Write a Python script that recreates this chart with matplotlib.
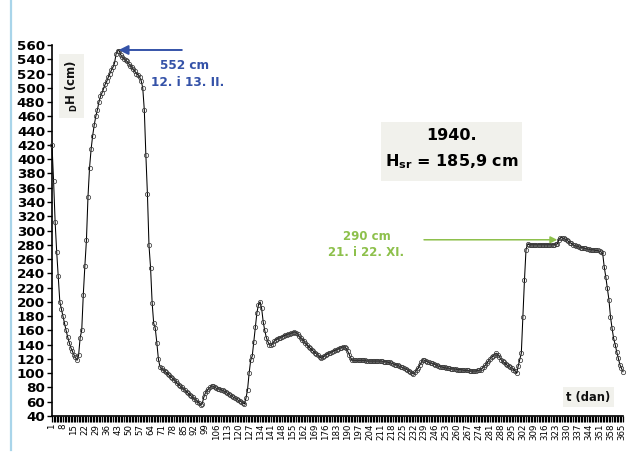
import numpy as np
import matplotlib
matplotlib.use("Agg")
import matplotlib.pyplot as plt
from matplotlib.patches import Rectangle
from matplotlib.lines import Line2D

# daily water level H (cm) for 1940 (leap year), one list per month
jan = [420, 370, 312, 270, 236, 200, 190, 180, 170, 160, 151, 143, 136, 131, 126, 122,
       118, 125, 150, 160, 210, 250, 286, 347, 388, 414, 433, 448, 460, 469, 480]
feb = [488, 493, 499, 505, 509, 515, 520, 525, 529, 535, 548, 552, 552, 546, 543, 541,
       539, 537, 534, 531, 529, 526, 523, 520, 518, 515, 510, 500, 469]
mar = [406, 351, 279, 248, 199, 170, 163, 143, 120, 109, 107, 105, 103, 101, 99, 97,
       95, 93, 91, 89, 86, 84, 82, 80, 78, 76, 74, 72, 70, 68, 66]
apr = [64, 62, 60, 58, 55, 57, 66, 72, 75, 78, 80, 82, 82, 80, 79, 78,
       78, 77, 76, 75, 74, 72, 71, 69, 68, 66, 65, 64, 62, 61]
may = [60, 58, 57, 65, 77, 100, 118, 124, 144, 165, 185, 196, 200, 191, 172, 160,
       150, 144, 140, 139, 141, 145, 147, 148, 149, 150, 151, 152, 153, 154, 155]
jun = [155, 156, 157, 158, 157, 155, 152, 149, 147, 145, 142, 140, 137, 135, 133, 131,
       129, 127, 125, 123, 121, 122, 124, 126, 127, 128, 129, 130, 131, 132]
jul = [133, 134, 135, 136, 137, 137, 135, 131, 126, 121, 118, 118, 118, 118, 118, 118,
       118, 118, 118, 117, 117, 117, 117, 117, 117, 117, 117, 117, 117, 117, 116]
aug = [116, 116, 115, 115, 114, 113, 112, 112, 111, 110, 109, 108, 107, 106, 105, 103,
       102, 100, 99, 101, 104, 107, 111, 115, 119, 118, 117, 116, 115, 114, 114]
sep = [113, 112, 111, 110, 109, 109, 108, 108, 107, 107, 107, 106, 106, 106, 106, 105,
       105, 105, 105, 104, 104, 104, 104, 103, 103, 103, 103, 103, 104, 104]
oct_ = [105, 107, 109, 111, 114, 117, 120, 122, 124, 126, 128, 126, 123, 119, 117, 115,
        113, 111, 110, 108, 107, 105, 103, 100, 110, 119, 128, 179, 230, 273, 281]
nov = [280, 280, 280, 280, 280, 280, 280, 280, 280, 280, 280, 280, 280, 280, 280, 280,
       280, 281, 281, 287, 290, 290, 289, 288, 287, 285, 283, 282, 280, 279]
dec = [278, 278, 277, 276, 276, 275, 275, 274, 274, 273, 273, 273, 272, 272, 272, 271,
       270, 268, 249, 235, 219, 203, 179, 163, 149, 140, 130, 121, 112, 107, 102]

levels = jan + feb + mar + apr + may + jun + jul + aug + sep + oct_ + nov + dec
days = np.arange(1, len(levels) + 1)

day_ticks = list(range(1, 366, 7))
h_ticks = list(range(40, 561, 20))

year_label = "1940."
mean_label = r"$\mathbf{H_{sr}}$ = 185,9 cm"
max_value, max_dates = 552, "12. i 13. II."
max_day = 43
nov_value, nov_dates = 290, "21. i 22. XI."
nov_day = 326

blue = "#3452a8"
green = "#8dc04b"
box_grey = "#f1f1ec"

W, H = 627, 458
fig = plt.figure(figsize=(W / 100, H / 100), dpi=100)
ax = fig.add_axes([52 / W, 42 / H, 571 / W, 371 / H])

ax.plot(days, levels, color="black", lw=0.75, marker="o", ms=3.1,
        mfc="none", mec="#3a3a3a", mew=0.55, clip_on=False, zorder=3)

ax.set_xlim(1, 366)
ax.set_ylim(40, 560)
ax.set_yticks(h_ticks)
ax.set_yticklabels([str(v) for v in h_ticks], fontsize=9.7, fontweight="bold")
ax.set_xticks(day_ticks)
ax.set_xticklabels([str(d) for d in day_ticks], rotation=90, fontsize=6.2)
ax.set_xticks(days, minor=True)
ax.tick_params(axis="y", direction="out", length=3.5, width=1, pad=1.5)
ax.tick_params(axis="x", which="both", direction="out", length=4, width=0.9, pad=1.5)
for side in ("top", "right"):
    ax.spines[side].set_visible(False)
for side in ("left", "bottom"):
    ax.spines[side].set_linewidth(1.2)

# axis titles in grey boxes
ax.add_patch(Rectangle((5.6, 457), 15.9, 91, fc=box_grey, ec="none", zorder=1))
ax.text(13.5, 502, r"$_{\mathbf{D}}$H (cm)", rotation=90, ha="center", va="center",
        fontsize=8.5, fontweight="bold", color="#111111", zorder=2)
ax.add_patch(Rectangle((327.5, 52.5), 32.5, 28, fc=box_grey, ec="none", zorder=1))
ax.text(343.8, 66.5, "t (dan)", ha="center", va="center",
        fontsize=8.3, fontweight="bold", color="#111111", zorder=2)

# yearly summary box
ax.add_patch(Rectangle((211.5, 369), 90, 83, fc=box_grey, ec="none", zorder=1))
ax.text(256.5, 433, year_label, ha="center", va="center",
        fontsize=11.5, fontweight="bold", zorder=2)
ax.text(256.5, 397, mean_label, ha="center", va="center",
        fontsize=11.5, fontweight="bold", zorder=2)

# annual maximum
ax.annotate("", xy=(max_day + 0.6, max_value + 1), xytext=(84, max_value + 1),
            arrowprops=dict(arrowstyle="-|>", color=blue, lw=1.4,
                            mutation_scale=14, shrinkA=0, shrinkB=0), zorder=4)
ax.text(86, 531, f"{max_value} cm", ha="center", va="center",
        fontsize=8.7, fontweight="bold", color=blue)
ax.text(87.7, 507, max_dates, ha="center", va="center",
        fontsize=8.7, fontweight="bold", color=blue)

# autumn maximum
ax.annotate("", xy=(nov_day - 2, nov_value - 3), xytext=(238.8, nov_value - 3),
            arrowprops=dict(arrowstyle="-|>", color=green, lw=1.1,
                            mutation_scale=10, shrinkA=0, shrinkB=0), zorder=4)
ax.text(202, 292, f"{nov_value} cm", ha="center", va="center",
        fontsize=8.5, fontweight="bold", color=green)
ax.text(202, 268.5, nov_dates, ha="center", va="center",
        fontsize=8.5, fontweight="bold", color=green)

# page border on the left
fig.add_artist(Line2D([10.5 / W, 10.5 / W], [1, 1 - 450 / H],
                      transform=fig.transFigure, color="#a9d5ea", lw=1.6))

fig.savefig("out.png", dpi=100)
